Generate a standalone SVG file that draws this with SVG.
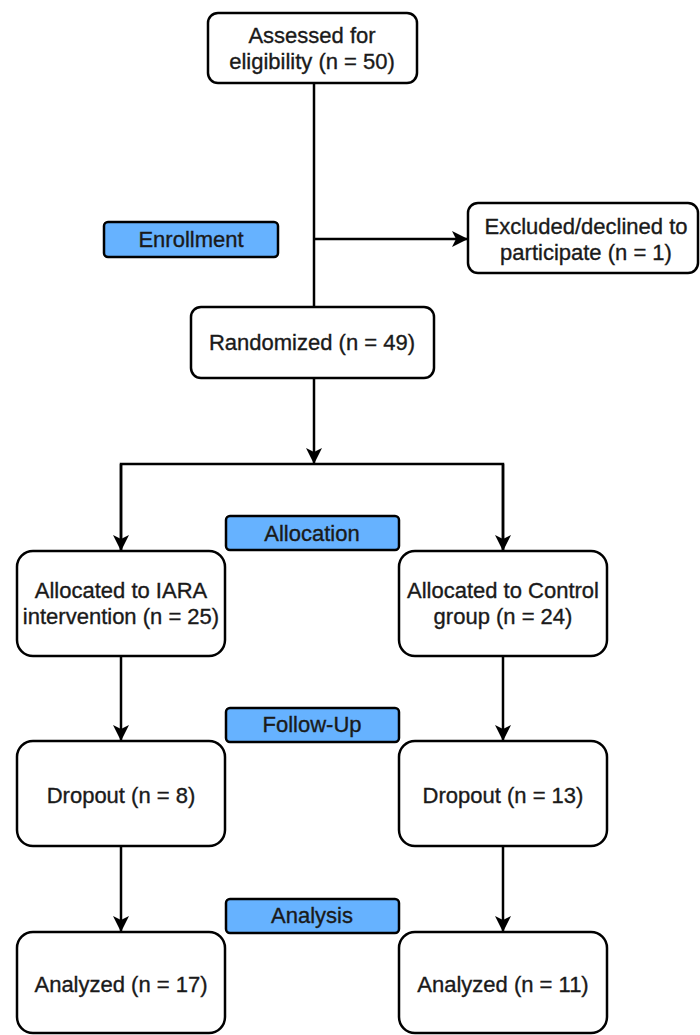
<svg xmlns="http://www.w3.org/2000/svg" width="700" height="1035" viewBox="0 0 700 1035">
<defs>
<marker id="arr" markerUnits="userSpaceOnUse" markerWidth="18" markerHeight="16" refX="16" refY="8" orient="auto">
<path d="M0,0 L16,8 L0,16 L4,8 Z" fill="#000"/>
</marker>
<style>
.box{fill:#fff;stroke:#000;stroke-width:2.5}
.lab{fill:#66b2ff;stroke:#000;stroke-width:2.5}
text{font-family:"Liberation Sans",Arial,sans-serif;font-size:22px;fill:#1a1a1a;stroke:#1a1a1a;stroke-width:0.35;text-anchor:middle}
.ln{fill:none;stroke:#000;stroke-width:2.5}
</style>
</defs>
<rect width="700" height="1035" fill="#fff"/>
<g id="connectors">
<line class="ln" x1="314" y1="83" x2="314" y2="307"/>
<line class="ln" x1="314" y1="239" x2="468" y2="239" marker-end="url(#arr)"/>
<line class="ln" x1="314" y1="378" x2="314" y2="464" marker-end="url(#arr)"/>
<polyline class="ln" points="121,551 121,464 503,464 503,551"/>
<line class="ln" x1="121" y1="464" x2="121" y2="551" marker-end="url(#arr)"/>
<line class="ln" x1="503" y1="464" x2="503" y2="551" marker-end="url(#arr)"/>
<line class="ln" x1="121" y1="656" x2="121" y2="741" marker-end="url(#arr)"/>
<line class="ln" x1="503" y1="656" x2="503" y2="741" marker-end="url(#arr)"/>
<line class="ln" x1="121" y1="846" x2="121" y2="932" marker-end="url(#arr)"/>
<line class="ln" x1="503" y1="846" x2="503" y2="932" marker-end="url(#arr)"/>
</g>
<g id="assessed">
<rect class="box" x="208" y="13" width="209" height="70" rx="10"/>
<text x="312" y="43">Assessed for</text>
<text x="312" y="69">eligibility (n = 50)</text>
</g>
<g id="enrollment">
<rect class="lab" x="104" y="222" width="174" height="35" rx="4"/>
<text x="191" y="247">Enrollment</text>
</g>
<g id="excluded">
<rect class="box" x="468" y="203" width="230" height="70" rx="10"/>
<text x="586" y="234">Excluded/declined to</text>
<text x="586" y="260">participate (n = 1)</text>
</g>
<g id="randomized">
<rect class="box" x="191" y="307" width="243" height="71" rx="10"/>
<text x="312" y="350">Randomized (n = 49)</text>
</g>
<g id="allocation">
<rect class="lab" x="226" y="516" width="173" height="34" rx="4"/>
<text x="312" y="541">Allocation</text>
</g>
<g id="alloc-iara">
<rect class="box" x="17" y="551" width="208" height="105" rx="16"/>
<text x="121" y="598">Allocated to IARA</text>
<text x="121" y="624">intervention (n = 25)</text>
</g>
<g id="alloc-control">
<rect class="box" x="399" y="551" width="208" height="105" rx="16"/>
<text x="503" y="598">Allocated to Control</text>
<text x="503" y="624">group (n = 24)</text>
</g>
<g id="followup">
<rect class="lab" x="226" y="708" width="173" height="34" rx="4"/>
<text x="312" y="732">Follow-Up</text>
</g>
<g id="dropout-iara">
<rect class="box" x="17" y="741" width="208" height="105" rx="16"/>
<text x="121" y="803">Dropout (n = 8)</text>
</g>
<g id="dropout-control">
<rect class="box" x="399" y="741" width="208" height="105" rx="16"/>
<text x="503" y="803">Dropout (n = 13)</text>
</g>
<g id="analysis">
<rect class="lab" x="226" y="899" width="173" height="34" rx="4"/>
<text x="312" y="923">Analysis</text>
</g>
<g id="analyzed-iara">
<rect class="box" x="17" y="932" width="208" height="101" rx="16"/>
<text x="121" y="992">Analyzed (n = 17)</text>
</g>
<g id="analyzed-control">
<rect class="box" x="399" y="932" width="208" height="101" rx="16"/>
<text x="503" y="992">Analyzed (n = 11)</text>
</g>
</svg>
